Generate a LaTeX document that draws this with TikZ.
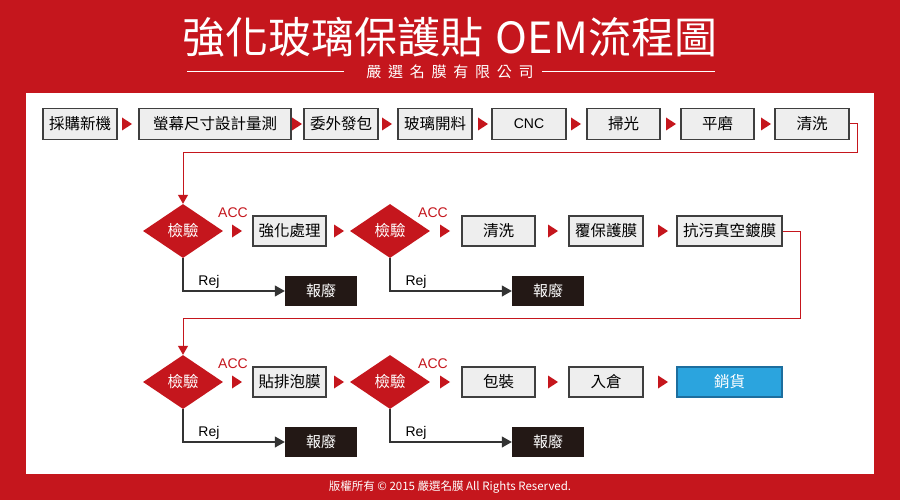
\documentclass[tikz,border=0pt]{standalone}
\usepackage{fontspec}
\setmainfont{Noto Sans CJK TC}
\newfontfamily\subfont{Noto Sans CJK TC}[LetterSpace=45]
\newfontfamily\latfont{Liberation Sans}
\usetikzlibrary{shapes.geometric,arrows.meta}
\definecolor{brand}{HTML}{C5161D}
\definecolor{boxfill}{HTML}{EEEEEE}
\definecolor{boxline}{HTML}{3F3F3F}
\definecolor{darkbox}{HTML}{231815}
\definecolor{bluefill}{HTML}{2BA4DE}
\definecolor{blueline}{HTML}{1D6E9E}
\definecolor{rejline}{HTML}{333333}
\newcommand{\rtri}[2]{\fill[brand] (#1-5,#2-6.5) -- (#1+5,#2) -- (#1-5,#2+6.5) -- cycle;}
\begin{document}
\begin{tikzpicture}[x=1pt,y=-1pt,
  stepbox/.style={draw=boxline,fill=boxfill,line width=1.1pt,minimum height=31pt,inner sep=0pt,font=\fontsize{15.5}{15.5}\selectfont,text=black},
  scrap/.style={fill=darkbox,minimum width=72pt,minimum height=30pt,inner sep=0pt,text=white,font=\fontsize{15}{15}\selectfont},
  check/.style={diamond,fill=brand,minimum width=80pt,minimum height=54pt,inner sep=0pt,aspect=1.5,text=white,font=\fontsize{15.5}{15.5}\selectfont},
  acc/.style={text=brand,font=\latfont\fontsize{14}{14}\selectfont,inner sep=0pt},
  rej/.style={text=black,font=\latfont\fontsize{14}{14}\selectfont,inner sep=0pt},
  flowline/.style={draw=brand,line width=1pt},
  rejarrow/.style={draw=rejline,line width=1.1pt,-{Triangle[width=11pt,length=10pt]}}
]
\fill[brand] (0,0) rectangle (900,500);
\fill[white] (26,93) rectangle (874,474);
% title
\node[text=white,font=\fontsize{43}{43}\selectfont,inner sep=0pt] (title) at (450,37) {強化玻璃保護貼\hspace{12pt}OEM流程圖};
\node[text=white,font=\subfont\fontsize{15}{15}\selectfont,inner sep=0pt] (sub) at (450,72) {嚴選名膜有限公司};
\coordinate (l1a) at (187,72); \coordinate (l1b) at (344,72);
\coordinate (l2a) at (542,72); \coordinate (l2b) at (715,72);
\draw[white,line width=1pt] (l1a) -- (l1b);
\draw[white,line width=1pt] (l2a) -- (l2b);
% row 1
\node[stepbox,minimum width=74pt] (b1) at (80,124) {採購新機};
\node[stepbox,minimum width=152pt] (b2) at (215,124) {螢幕尺寸設計量測};
\node[stepbox,minimum width=74pt] (b3) at (341,124) {委外發包};
\node[stepbox,minimum width=74pt] (b4) at (435,124) {玻璃開料};
\node[stepbox,minimum width=74pt,font=\latfont\fontsize{14}{14}\selectfont] (b5) at (529,124) {CNC};
\node[stepbox,minimum width=73pt] (b6) at (623.5,124) {掃光};
\node[stepbox,minimum width=73pt] (b7) at (717.5,124) {平磨};
\node[stepbox,minimum width=74pt] (b8) at (812,124) {清洗};
\rtri{127}{124}\rtri{297}{124}\rtri{387}{124}\rtri{483}{124}\rtri{576}{124}\rtri{671}{124}\rtri{766}{124}
% row 2
\node[check] (d1) at (183,231) {檢驗};
\node[check] (d2) at (390,231) {檢驗};
\node[stepbox,minimum width=73pt,minimum height=30pt] (s1) at (289.5,231) {強化處理};
\node[stepbox,minimum width=73pt,minimum height=30pt] (s2) at (498.5,231) {清洗};
\node[stepbox,minimum width=74pt,minimum height=30pt] (s3) at (606,231) {覆保護膜};
\node[stepbox,minimum width=105pt,minimum height=30pt] (s4) at (729.5,231) {抗污真空鍍膜};
\node[acc] (a1) at (233,213) {ACC};
\node[acc] (a2) at (433,213) {ACC};
\rtri{237}{231}\rtri{339}{231}\rtri{445}{231}\rtri{553}{231}\rtri{663}{231}
\node[scrap] (r1) at (321,291) {報廢};
\node[scrap] (r2) at (548,291) {報廢};
\node[rej] (j1) at (209,282) {Rej};
\node[rej] (j2) at (416,282) {Rej};
\draw[rejarrow] (d1.south) |- (r1.west);
\draw[rejarrow] (d2.south) |- (r2.west);
% row 3
\node[check] (d3) at (183,382) {檢驗};
\node[check] (d4) at (390,382) {檢驗};
\node[stepbox,minimum width=73pt,minimum height=30pt] (s5) at (289.5,382) {貼排泡膜};
\node[stepbox,minimum width=73pt,minimum height=30pt] (s6) at (498.5,382) {包裝};
\node[stepbox,minimum width=74pt,minimum height=30pt] (s7) at (606,382) {入倉};
\node[stepbox,draw=blueline,fill=bluefill,text=white,minimum width=105pt,minimum height=30pt] (s8) at (729.5,382) {銷貨};
\node[acc] (a3) at (233,364) {ACC};
\node[acc] (a4) at (433,364) {ACC};
\rtri{237}{382}\rtri{339}{382}\rtri{445}{382}\rtri{553}{382}\rtri{663}{382}
\node[scrap] (r3) at (321,442) {報廢};
\node[scrap] (r4) at (548,442) {報廢};
\node[rej] (j3) at (209,433) {Rej};
\node[rej] (j4) at (416,433) {Rej};
\draw[rejarrow] (d3.south) |- (r3.west);
\draw[rejarrow] (d4.south) |- (r4.west);
% long connectors
\coordinate (c1) at (857,153);
\coordinate (c2) at (800,318);
\draw[flowline,-{Triangle[width=10pt,length=9pt]}] (b8.east) -| (c1) -| (d1.north);
\draw[flowline,-{Triangle[width=10pt,length=9pt]}] (s4.east) -| (c2) -| (d3.north);
% footer
\node[text=white,font=\fontsize{11.5}{11.5}\selectfont,inner sep=0pt] (foot) at (450,487) {版權所有 © 2015 嚴選名膜 All Rights Reserved.};
\end{tikzpicture}
\end{document}
